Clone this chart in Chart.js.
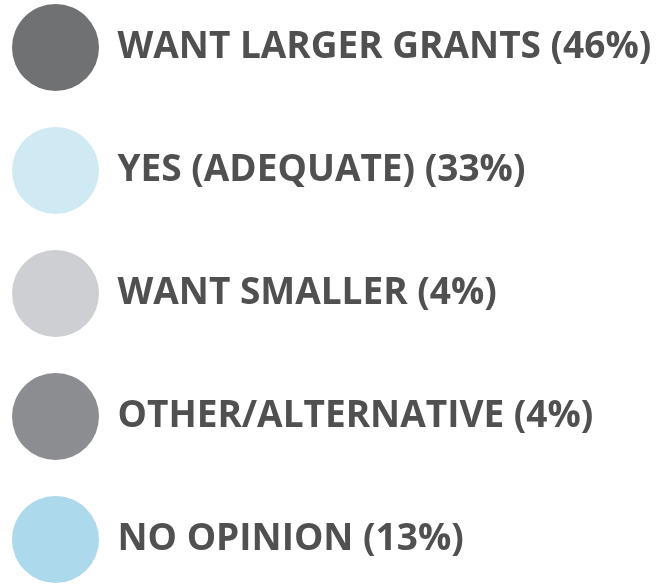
<!DOCTYPE html>
<html>
<head>
<meta charset="utf-8">
<script src="https://cdn.jsdelivr.net/npm/chart.js@4/dist/chart.umd.min.js"></script>
<style>
html,body{margin:0;padding:0;background:#fff;}
#wrap{width:656px;height:585px;position:relative;}
</style>
</head>
<body>
<div id="wrap"><canvas id="c"></canvas></div>
<script>
const categories = ["WANT LARGER GRANTS", "YES (ADEQUATE)", "WANT SMALLER", "OTHER/ALTERNATIVE", "NO OPINION"];
const shares = [46, 33, 4, 4, 13];
const colors = ["#6f7173", "#d0eaf4", "#cdcfd2", "#8b8d90", "#acd9ec"];

const labels = categories.map((c, i) => c + " (" + shares[i] + "%)");

new Chart(document.getElementById("c"), {
  type: "pie",
  data: {
    labels: labels,
    datasets: [{ data: shares, backgroundColor: colors, borderWidth: 0, hidden: true }]
  },
  options: {
    responsive: true,
    maintainAspectRatio: false,
    animation: false,
    layout: { padding: { left: -24, top: -32, right: 0, bottom: -800 } },
    plugins: {
      tooltip: { enabled: false },
      legend: {
        display: true,
        position: "top",
        align: "start",
        labels: {
          boxWidth: 87,
          boxHeight: 87,
          padding: 36,
          color: "#505050",
          font: { family: "'Open Sans', sans-serif", size: 37, weight: "bold" },
          generateLabels: function (chart) {
            const ds = chart.data.datasets[0];
            return chart.data.labels.map((t, i) => ({
              text: t,
              fillStyle: ds.backgroundColor[i],
              strokeStyle: ds.backgroundColor[i],
              lineWidth: 0,
              fontColor: "#505050",
              borderRadius: 43.5,
              hidden: false,
              index: i
            }));
          }
        }
      }
    }
  }
});
</script>
</body>
</html>
